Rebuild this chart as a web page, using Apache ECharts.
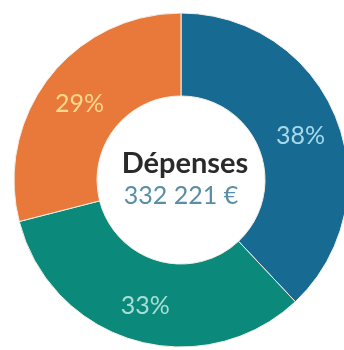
<!DOCTYPE html>
<html>
<head>
<meta charset="utf-8">
<script src="https://cdn.jsdelivr.net/npm/echarts@6/dist/echarts.min.js"></script>
<style>html,body{margin:0;padding:0;background:#fff;}#c{width:344px;height:350px;}</style>
</head>
<body>
<div id="c"></div>
<script>
var categories = ['A', 'B', 'C'];
var values = [38, 33, 29];
var colors = ['#176a91', '#0b8a7b', '#e9793a'];
var labelColors = ['#a6d9ec', '#a8ddd6', '#fbd88c'];
var title = 'Dépenses';
var totalText = '332 221 €';

var chart = echarts.init(document.getElementById('c'));
chart.setOption({
  animation: false,
  series: [{
    type: 'pie',
    center: [181, 180],
    radius: [84, 167],
    startAngle: 90,
    clockwise: true,
    avoidLabelOverlap: false,
    itemStyle: { borderColor: '#f4efe6', borderWidth: 1 },
    label: {
      show: true,
      position: 'inside',
      fontFamily: 'Lato',
      fontSize: 25,
      offset: [0, 3],
      formatter: function (p) { return p.value + '%'; }
    },
    labelLine: { show: false },
    data: categories.map(function (c, i) {
      return {
        name: c, value: values[i],
        itemStyle: { color: colors[i] },
        label: { color: labelColors[i] }
      };
    })
  }],
  graphic: [
    { type: 'text', x: 185, y: 164, style: { text: title, fontFamily: 'Lato', fontWeight: 'bold', fontSize: 29, fill: '#2a2a2a', align: 'center', verticalAlign: 'middle' } },
    { type: 'text', x: 181, y: 196, style: { text: totalText, fontFamily: 'Lato', fontSize: 25, fill: '#5a8ea8', align: 'center', verticalAlign: 'middle' } }
  ]
});
</script>
</body>
</html>
